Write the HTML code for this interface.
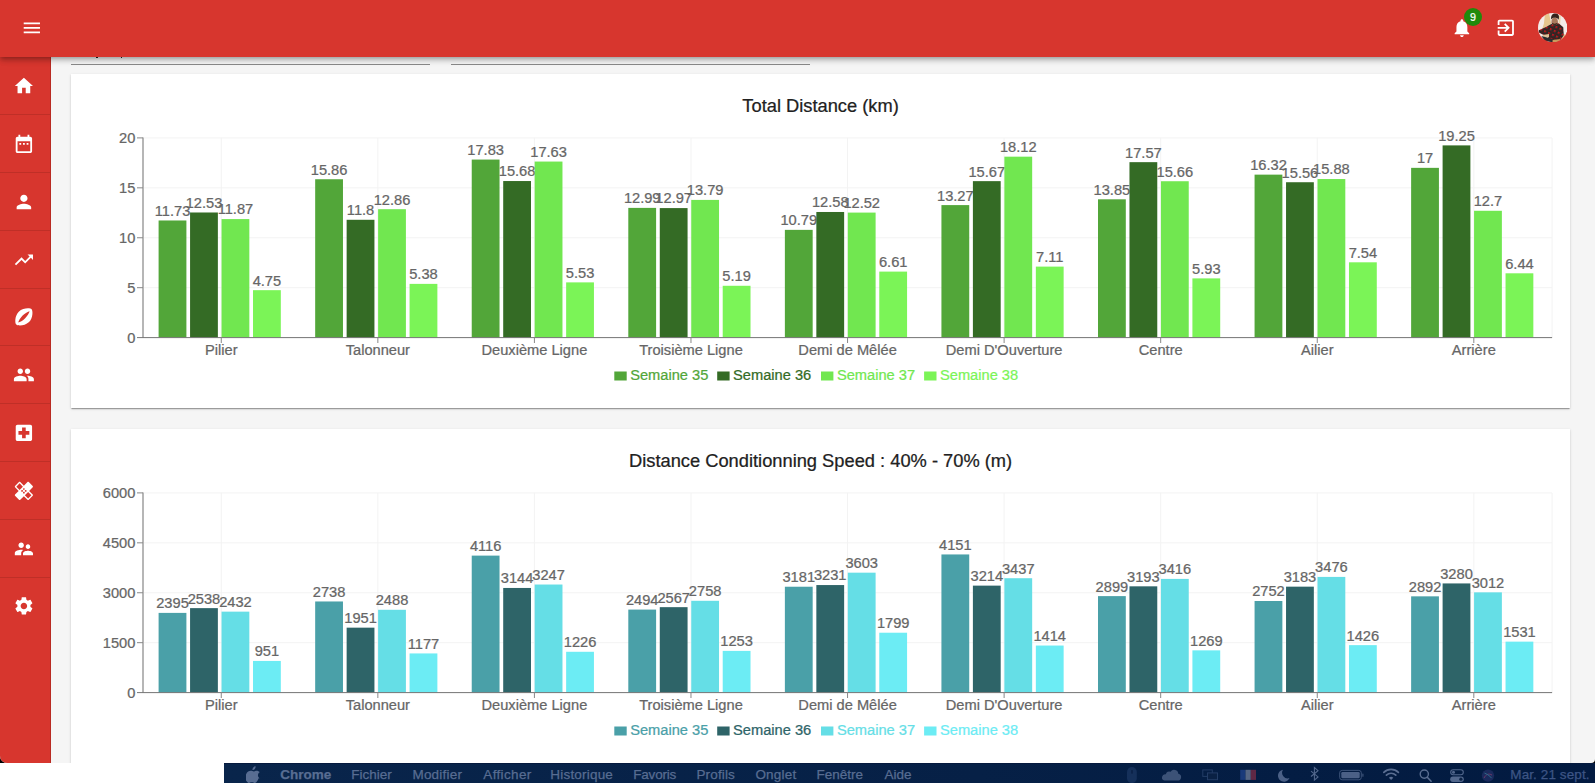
<!DOCTYPE html>
<html lang="fr"><head><meta charset="utf-8"><title>Dashboard</title>
<style>
html,body{margin:0;padding:0}
body{width:1595px;height:783px;overflow:hidden;background:#fff;position:relative;font-family:"Liberation Sans",Arial,Helvetica,sans-serif}
#corner{position:absolute;left:0;top:750px;width:12px;height:13px;background:#000}
#corner2{position:absolute;left:1589px;top:757px;width:6px;height:6px;background:#000}
#app{position:absolute;left:0;top:0;width:1595px;height:762.6px;background:#f5f5f5;overflow:hidden;border-bottom-left-radius:7px;border-bottom-right-radius:4px}
#hdr{position:absolute;left:0;top:0;width:1595px;height:56.8px;background:#d7362e;box-shadow:0 2px 4px -1px rgba(0,0,0,.2),0 4px 5px 0 rgba(0,0,0,.14),0 1px 9px 0 rgba(0,0,0,.12);z-index:5}
#side{position:absolute;left:0;top:0;width:50px;height:763px;background:#d7362e;border-right:1px solid #b92a22;z-index:3}
.ic{position:absolute;display:block}
.dv{position:absolute;left:0;width:50px;height:1px;background:#bf2f27}
.card{position:absolute;left:71px;width:1499px;background:#fff;box-shadow:0 2px 1px -1px rgba(0,0,0,.2),0 1px 1px 0 rgba(0,0,0,.14),0 1px 3px 0 rgba(0,0,0,.12)}
.ul{position:absolute;top:64px;height:1px;background:#8a8a8a}
.desc{position:absolute;top:54px;width:1.6px;height:3.6px;background:#222}
#charts{position:absolute;left:0;top:0;z-index:2}
#charts text{font-family:"Liberation Sans",Arial,Helvetica,sans-serif;font-size:14.65px;stroke-width:.24px}
#mb{position:absolute;left:224px;top:763px;width:1371px;height:20px;background:linear-gradient(90deg,#09254b 0%,#062046 55%,#021a40 100%);border-top:1px solid #061a3e;box-sizing:border-box;color:#586d92;font-size:13.5px;line-height:20px;white-space:nowrap;overflow:hidden}
#mb span{position:absolute;top:.6px;-webkit-text-stroke:.25px currentColor}
</style></head><body>
<div id="corner"></div><div id="corner2"></div>
<div id="app">
  <div class="ul" style="left:71px;width:359px"></div>
  <div class="ul" style="left:451px;width:359px"></div>
  <div class="desc" style="left:96.2px"></div><div class="desc" style="left:120.6px"></div>
  <div class="card" style="top:74px;height:334px"></div>
  <div class="card" style="top:429px;height:340px"></div>
  <svg id="charts" width="1595" height="763" viewBox="0 0 1595 763">
<line x1="143.0" x2="1552.1" y1="337.60" y2="337.60" stroke="#f3f3f3" stroke-width="1"/>
<line x1="143.0" x2="1552.1" y1="287.68" y2="287.68" stroke="#f3f3f3" stroke-width="1"/>
<line x1="143.0" x2="1552.1" y1="237.75" y2="237.75" stroke="#f3f3f3" stroke-width="1"/>
<line x1="143.0" x2="1552.1" y1="187.83" y2="187.83" stroke="#f3f3f3" stroke-width="1"/>
<line x1="143.0" x2="1552.1" y1="137.90" y2="137.90" stroke="#f3f3f3" stroke-width="1"/>
<line x1="221.28" x2="221.28" y1="137.90" y2="337.60" stroke="#f3f3f3" stroke-width="1"/>
<line x1="377.85" x2="377.85" y1="137.90" y2="337.60" stroke="#f3f3f3" stroke-width="1"/>
<line x1="534.42" x2="534.42" y1="137.90" y2="337.60" stroke="#f3f3f3" stroke-width="1"/>
<line x1="690.98" x2="690.98" y1="137.90" y2="337.60" stroke="#f3f3f3" stroke-width="1"/>
<line x1="847.55" x2="847.55" y1="137.90" y2="337.60" stroke="#f3f3f3" stroke-width="1"/>
<line x1="1004.12" x2="1004.12" y1="137.90" y2="337.60" stroke="#f3f3f3" stroke-width="1"/>
<line x1="1160.68" x2="1160.68" y1="137.90" y2="337.60" stroke="#f3f3f3" stroke-width="1"/>
<line x1="1317.25" x2="1317.25" y1="137.90" y2="337.60" stroke="#f3f3f3" stroke-width="1"/>
<line x1="1473.82" x2="1473.82" y1="137.90" y2="337.60" stroke="#f3f3f3" stroke-width="1"/>
<line x1="1552.1" x2="1552.1" y1="137.90" y2="337.60" stroke="#f3f3f3" stroke-width="1"/>
<rect x="158.60" y="220.48" width="27.8" height="117.12" fill="#52a639"/>
<rect x="315.17" y="179.24" width="27.8" height="158.36" fill="#52a639"/>
<rect x="471.73" y="159.57" width="27.8" height="178.03" fill="#52a639"/>
<rect x="628.30" y="207.89" width="27.8" height="129.71" fill="#52a639"/>
<rect x="784.87" y="229.86" width="27.8" height="107.74" fill="#52a639"/>
<rect x="941.43" y="205.10" width="27.8" height="132.50" fill="#52a639"/>
<rect x="1098.00" y="199.31" width="27.8" height="138.29" fill="#52a639"/>
<rect x="1254.57" y="174.64" width="27.8" height="162.96" fill="#52a639"/>
<rect x="1411.13" y="167.85" width="27.8" height="169.75" fill="#52a639"/>
<text x="172.50" y="215.88" text-anchor="middle" fill="#666" stroke="#666">11.73</text>
<text x="329.07" y="174.64" text-anchor="middle" fill="#666" stroke="#666">15.86</text>
<text x="485.63" y="154.97" text-anchor="middle" fill="#666" stroke="#666">17.83</text>
<text x="642.20" y="203.29" text-anchor="middle" fill="#666" stroke="#666">12.99</text>
<text x="798.77" y="225.26" text-anchor="middle" fill="#666" stroke="#666">10.79</text>
<text x="955.33" y="200.50" text-anchor="middle" fill="#666" stroke="#666">13.27</text>
<text x="1111.90" y="194.71" text-anchor="middle" fill="#666" stroke="#666">13.85</text>
<text x="1268.47" y="170.04" text-anchor="middle" fill="#666" stroke="#666">16.32</text>
<text x="1425.03" y="163.25" text-anchor="middle" fill="#666" stroke="#666">17</text>
<rect x="190.07" y="212.49" width="27.8" height="125.11" fill="#346b25"/>
<rect x="346.64" y="219.78" width="27.8" height="117.82" fill="#346b25"/>
<rect x="503.20" y="181.04" width="27.8" height="156.56" fill="#346b25"/>
<rect x="659.77" y="208.09" width="27.8" height="129.51" fill="#346b25"/>
<rect x="816.34" y="211.99" width="27.8" height="125.61" fill="#346b25"/>
<rect x="972.90" y="181.14" width="27.8" height="156.46" fill="#346b25"/>
<rect x="1129.47" y="162.16" width="27.8" height="175.44" fill="#346b25"/>
<rect x="1286.04" y="182.23" width="27.8" height="155.37" fill="#346b25"/>
<rect x="1442.60" y="145.39" width="27.8" height="192.21" fill="#346b25"/>
<text x="203.97" y="207.89" text-anchor="middle" fill="#666" stroke="#666">12.53</text>
<text x="360.54" y="215.18" text-anchor="middle" fill="#666" stroke="#666">11.8</text>
<text x="517.10" y="176.44" text-anchor="middle" fill="#666" stroke="#666">15.68</text>
<text x="673.67" y="203.49" text-anchor="middle" fill="#666" stroke="#666">12.97</text>
<text x="830.24" y="207.39" text-anchor="middle" fill="#666" stroke="#666">12.58</text>
<text x="986.80" y="176.54" text-anchor="middle" fill="#666" stroke="#666">15.67</text>
<text x="1143.37" y="157.56" text-anchor="middle" fill="#666" stroke="#666">17.57</text>
<text x="1299.94" y="177.63" text-anchor="middle" fill="#666" stroke="#666">15.56</text>
<text x="1456.50" y="140.79" text-anchor="middle" fill="#666" stroke="#666">19.25</text>
<rect x="221.54" y="219.08" width="27.8" height="118.52" fill="#71e750"/>
<rect x="378.11" y="209.19" width="27.8" height="128.41" fill="#71e750"/>
<rect x="534.67" y="161.56" width="27.8" height="176.04" fill="#71e750"/>
<rect x="691.24" y="199.91" width="27.8" height="137.69" fill="#71e750"/>
<rect x="847.81" y="212.59" width="27.8" height="125.01" fill="#71e750"/>
<rect x="1004.37" y="156.67" width="27.8" height="180.93" fill="#71e750"/>
<rect x="1160.94" y="181.23" width="27.8" height="156.37" fill="#71e750"/>
<rect x="1317.51" y="179.04" width="27.8" height="158.56" fill="#71e750"/>
<rect x="1474.07" y="210.79" width="27.8" height="126.81" fill="#71e750"/>
<text x="235.44" y="214.48" text-anchor="middle" fill="#666" stroke="#666">11.87</text>
<text x="392.01" y="204.59" text-anchor="middle" fill="#666" stroke="#666">12.86</text>
<text x="548.57" y="156.96" text-anchor="middle" fill="#666" stroke="#666">17.63</text>
<text x="705.14" y="195.31" text-anchor="middle" fill="#666" stroke="#666">13.79</text>
<text x="861.71" y="207.99" text-anchor="middle" fill="#666" stroke="#666">12.52</text>
<text x="1018.27" y="152.07" text-anchor="middle" fill="#666" stroke="#666">18.12</text>
<text x="1174.84" y="176.63" text-anchor="middle" fill="#666" stroke="#666">15.66</text>
<text x="1331.41" y="174.44" text-anchor="middle" fill="#666" stroke="#666">15.88</text>
<text x="1487.97" y="206.19" text-anchor="middle" fill="#666" stroke="#666">12.7</text>
<rect x="253.01" y="290.17" width="27.8" height="47.43" fill="#7bf457"/>
<rect x="409.58" y="283.88" width="27.8" height="53.72" fill="#7bf457"/>
<rect x="566.14" y="282.38" width="27.8" height="55.22" fill="#7bf457"/>
<rect x="722.71" y="285.78" width="27.8" height="51.82" fill="#7bf457"/>
<rect x="879.28" y="271.60" width="27.8" height="66.00" fill="#7bf457"/>
<rect x="1035.84" y="266.61" width="27.8" height="70.99" fill="#7bf457"/>
<rect x="1192.41" y="278.39" width="27.8" height="59.21" fill="#7bf457"/>
<rect x="1348.98" y="262.31" width="27.8" height="75.29" fill="#7bf457"/>
<rect x="1505.54" y="273.30" width="27.8" height="64.30" fill="#7bf457"/>
<text x="266.91" y="285.57" text-anchor="middle" fill="#666" stroke="#666">4.75</text>
<text x="423.48" y="279.28" text-anchor="middle" fill="#666" stroke="#666">5.38</text>
<text x="580.04" y="277.78" text-anchor="middle" fill="#666" stroke="#666">5.53</text>
<text x="736.61" y="281.18" text-anchor="middle" fill="#666" stroke="#666">5.19</text>
<text x="893.18" y="267.00" text-anchor="middle" fill="#666" stroke="#666">6.61</text>
<text x="1049.74" y="262.01" text-anchor="middle" fill="#666" stroke="#666">7.11</text>
<text x="1206.31" y="273.79" text-anchor="middle" fill="#666" stroke="#666">5.93</text>
<text x="1362.88" y="257.71" text-anchor="middle" fill="#666" stroke="#666">7.54</text>
<text x="1519.44" y="268.70" text-anchor="middle" fill="#666" stroke="#666">6.44</text>
<line x1="143.0" x2="143.0" y1="137.40" y2="338.00" stroke="#b6b6b6" stroke-width="2"/>
<line x1="137.0" x2="1552.1" y1="337.60" y2="337.60" stroke="#777" stroke-width="1"/>
<text x="135.4" y="342.70" text-anchor="end" fill="#666" stroke="#666">0</text>
<line x1="137.0" x2="143.0" y1="287.68" y2="287.68" stroke="#888" stroke-width="1"/>
<text x="135.4" y="292.78" text-anchor="end" fill="#666" stroke="#666">5</text>
<line x1="137.0" x2="143.0" y1="237.75" y2="237.75" stroke="#888" stroke-width="1"/>
<text x="135.4" y="242.85" text-anchor="end" fill="#666" stroke="#666">10</text>
<line x1="137.0" x2="143.0" y1="187.83" y2="187.83" stroke="#888" stroke-width="1"/>
<text x="135.4" y="192.93" text-anchor="end" fill="#666" stroke="#666">15</text>
<line x1="137.0" x2="143.0" y1="137.90" y2="137.90" stroke="#888" stroke-width="1"/>
<text x="135.4" y="143.00" text-anchor="end" fill="#666" stroke="#666">20</text>
<line x1="221.28" x2="221.28" y1="337.60" y2="343.00" stroke="#888" stroke-width="1"/>
<text x="221.28" y="355.20" text-anchor="middle" fill="#666" stroke="#666">Pilier</text>
<line x1="377.85" x2="377.85" y1="337.60" y2="343.00" stroke="#888" stroke-width="1"/>
<text x="377.85" y="355.20" text-anchor="middle" fill="#666" stroke="#666">Talonneur</text>
<line x1="534.42" x2="534.42" y1="337.60" y2="343.00" stroke="#888" stroke-width="1"/>
<text x="534.42" y="355.20" text-anchor="middle" fill="#666" stroke="#666">Deuxième Ligne</text>
<line x1="690.98" x2="690.98" y1="337.60" y2="343.00" stroke="#888" stroke-width="1"/>
<text x="690.98" y="355.20" text-anchor="middle" fill="#666" stroke="#666">Troisième Ligne</text>
<line x1="847.55" x2="847.55" y1="337.60" y2="343.00" stroke="#888" stroke-width="1"/>
<text x="847.55" y="355.20" text-anchor="middle" fill="#666" stroke="#666">Demi de Mêlée</text>
<line x1="1004.12" x2="1004.12" y1="337.60" y2="343.00" stroke="#888" stroke-width="1"/>
<text x="1004.12" y="355.20" text-anchor="middle" fill="#666" stroke="#666">Demi D'Ouverture</text>
<line x1="1160.68" x2="1160.68" y1="337.60" y2="343.00" stroke="#888" stroke-width="1"/>
<text x="1160.68" y="355.20" text-anchor="middle" fill="#666" stroke="#666">Centre</text>
<line x1="1317.25" x2="1317.25" y1="337.60" y2="343.00" stroke="#888" stroke-width="1"/>
<text x="1317.25" y="355.20" text-anchor="middle" fill="#666" stroke="#666">Ailier</text>
<line x1="1473.82" x2="1473.82" y1="337.60" y2="343.00" stroke="#888" stroke-width="1"/>
<text x="1473.82" y="355.20" text-anchor="middle" fill="#666" stroke="#666">Arrière</text>
<rect x="614.3" y="371.50" width="12.4" height="9.0" fill="#52a639"/>
<text x="630.20" y="379.90" fill="#52a639" stroke="#52a639">Semaine 35</text>
<rect x="717.2" y="371.50" width="12.4" height="9.0" fill="#346b25"/>
<text x="733.10" y="379.90" fill="#346b25" stroke="#346b25">Semaine 36</text>
<rect x="821.0" y="371.50" width="12.4" height="9.0" fill="#71e750"/>
<text x="836.90" y="379.90" fill="#71e750" stroke="#71e750">Semaine 37</text>
<rect x="924.1" y="371.50" width="12.4" height="9.0" fill="#7bf457"/>
<text x="940.00" y="379.90" fill="#7bf457" stroke="#7bf457">Semaine 38</text>
<text x="820.6" y="111.70" text-anchor="middle" fill="#212121" stroke="#212121" style="font-size:18.3px">Total Distance (km)</text>
<line x1="143.0" x2="1552.1" y1="692.60" y2="692.60" stroke="#f3f3f3" stroke-width="1"/>
<line x1="143.0" x2="1552.1" y1="642.68" y2="642.68" stroke="#f3f3f3" stroke-width="1"/>
<line x1="143.0" x2="1552.1" y1="592.75" y2="592.75" stroke="#f3f3f3" stroke-width="1"/>
<line x1="143.0" x2="1552.1" y1="542.83" y2="542.83" stroke="#f3f3f3" stroke-width="1"/>
<line x1="143.0" x2="1552.1" y1="492.90" y2="492.90" stroke="#f3f3f3" stroke-width="1"/>
<line x1="221.28" x2="221.28" y1="492.90" y2="692.60" stroke="#f3f3f3" stroke-width="1"/>
<line x1="377.85" x2="377.85" y1="492.90" y2="692.60" stroke="#f3f3f3" stroke-width="1"/>
<line x1="534.42" x2="534.42" y1="492.90" y2="692.60" stroke="#f3f3f3" stroke-width="1"/>
<line x1="690.98" x2="690.98" y1="492.90" y2="692.60" stroke="#f3f3f3" stroke-width="1"/>
<line x1="847.55" x2="847.55" y1="492.90" y2="692.60" stroke="#f3f3f3" stroke-width="1"/>
<line x1="1004.12" x2="1004.12" y1="492.90" y2="692.60" stroke="#f3f3f3" stroke-width="1"/>
<line x1="1160.68" x2="1160.68" y1="492.90" y2="692.60" stroke="#f3f3f3" stroke-width="1"/>
<line x1="1317.25" x2="1317.25" y1="492.90" y2="692.60" stroke="#f3f3f3" stroke-width="1"/>
<line x1="1473.82" x2="1473.82" y1="492.90" y2="692.60" stroke="#f3f3f3" stroke-width="1"/>
<line x1="1552.1" x2="1552.1" y1="492.90" y2="692.60" stroke="#f3f3f3" stroke-width="1"/>
<rect x="158.60" y="612.89" width="27.8" height="79.71" fill="#4aa0a8"/>
<rect x="315.17" y="601.47" width="27.8" height="91.13" fill="#4aa0a8"/>
<rect x="471.73" y="555.61" width="27.8" height="136.99" fill="#4aa0a8"/>
<rect x="628.30" y="609.59" width="27.8" height="83.01" fill="#4aa0a8"/>
<rect x="784.87" y="586.73" width="27.8" height="105.87" fill="#4aa0a8"/>
<rect x="941.43" y="554.44" width="27.8" height="138.16" fill="#4aa0a8"/>
<rect x="1098.00" y="596.11" width="27.8" height="96.49" fill="#4aa0a8"/>
<rect x="1254.57" y="601.00" width="27.8" height="91.60" fill="#4aa0a8"/>
<rect x="1411.13" y="596.34" width="27.8" height="96.26" fill="#4aa0a8"/>
<text x="172.50" y="608.29" text-anchor="middle" fill="#666" stroke="#666">2395</text>
<text x="329.07" y="596.87" text-anchor="middle" fill="#666" stroke="#666">2738</text>
<text x="485.63" y="551.01" text-anchor="middle" fill="#666" stroke="#666">4116</text>
<text x="642.20" y="604.99" text-anchor="middle" fill="#666" stroke="#666">2494</text>
<text x="798.77" y="582.13" text-anchor="middle" fill="#666" stroke="#666">3181</text>
<text x="955.33" y="549.84" text-anchor="middle" fill="#666" stroke="#666">4151</text>
<text x="1111.90" y="591.51" text-anchor="middle" fill="#666" stroke="#666">2899</text>
<text x="1268.47" y="596.40" text-anchor="middle" fill="#666" stroke="#666">2752</text>
<text x="1425.03" y="591.74" text-anchor="middle" fill="#666" stroke="#666">2892</text>
<rect x="190.07" y="608.13" width="27.8" height="84.47" fill="#2e6468"/>
<rect x="346.64" y="627.66" width="27.8" height="64.94" fill="#2e6468"/>
<rect x="503.20" y="587.96" width="27.8" height="104.64" fill="#2e6468"/>
<rect x="659.77" y="607.16" width="27.8" height="85.44" fill="#2e6468"/>
<rect x="816.34" y="585.06" width="27.8" height="107.54" fill="#2e6468"/>
<rect x="972.90" y="585.63" width="27.8" height="106.97" fill="#2e6468"/>
<rect x="1129.47" y="586.33" width="27.8" height="106.27" fill="#2e6468"/>
<rect x="1286.04" y="586.66" width="27.8" height="105.94" fill="#2e6468"/>
<rect x="1442.60" y="583.43" width="27.8" height="109.17" fill="#2e6468"/>
<text x="203.97" y="603.53" text-anchor="middle" fill="#666" stroke="#666">2538</text>
<text x="360.54" y="623.06" text-anchor="middle" fill="#666" stroke="#666">1951</text>
<text x="517.10" y="583.36" text-anchor="middle" fill="#666" stroke="#666">3144</text>
<text x="673.67" y="602.56" text-anchor="middle" fill="#666" stroke="#666">2567</text>
<text x="830.24" y="580.46" text-anchor="middle" fill="#666" stroke="#666">3231</text>
<text x="986.80" y="581.03" text-anchor="middle" fill="#666" stroke="#666">3214</text>
<text x="1143.37" y="581.73" text-anchor="middle" fill="#666" stroke="#666">3193</text>
<text x="1299.94" y="582.06" text-anchor="middle" fill="#666" stroke="#666">3183</text>
<text x="1456.50" y="578.83" text-anchor="middle" fill="#666" stroke="#666">3280</text>
<rect x="221.54" y="611.65" width="27.8" height="80.95" fill="#65dee6"/>
<rect x="378.11" y="609.79" width="27.8" height="82.81" fill="#65dee6"/>
<rect x="534.67" y="584.53" width="27.8" height="108.07" fill="#65dee6"/>
<rect x="691.24" y="600.80" width="27.8" height="91.80" fill="#65dee6"/>
<rect x="847.81" y="572.68" width="27.8" height="119.92" fill="#65dee6"/>
<rect x="1004.37" y="578.21" width="27.8" height="114.39" fill="#65dee6"/>
<rect x="1160.94" y="578.90" width="27.8" height="113.70" fill="#65dee6"/>
<rect x="1317.51" y="576.91" width="27.8" height="115.69" fill="#65dee6"/>
<rect x="1474.07" y="592.35" width="27.8" height="100.25" fill="#65dee6"/>
<text x="235.44" y="607.05" text-anchor="middle" fill="#666" stroke="#666">2432</text>
<text x="392.01" y="605.19" text-anchor="middle" fill="#666" stroke="#666">2488</text>
<text x="548.57" y="579.93" text-anchor="middle" fill="#666" stroke="#666">3247</text>
<text x="705.14" y="596.20" text-anchor="middle" fill="#666" stroke="#666">2758</text>
<text x="861.71" y="568.08" text-anchor="middle" fill="#666" stroke="#666">3603</text>
<text x="1018.27" y="573.61" text-anchor="middle" fill="#666" stroke="#666">3437</text>
<text x="1174.84" y="574.30" text-anchor="middle" fill="#666" stroke="#666">3416</text>
<text x="1331.41" y="572.31" text-anchor="middle" fill="#666" stroke="#666">3476</text>
<text x="1487.97" y="587.75" text-anchor="middle" fill="#666" stroke="#666">3012</text>
<rect x="253.01" y="660.95" width="27.8" height="31.65" fill="#6cecf4"/>
<rect x="409.58" y="653.43" width="27.8" height="39.17" fill="#6cecf4"/>
<rect x="566.14" y="651.79" width="27.8" height="40.81" fill="#6cecf4"/>
<rect x="722.71" y="650.90" width="27.8" height="41.70" fill="#6cecf4"/>
<rect x="879.28" y="632.72" width="27.8" height="59.88" fill="#6cecf4"/>
<rect x="1035.84" y="645.54" width="27.8" height="47.06" fill="#6cecf4"/>
<rect x="1192.41" y="650.36" width="27.8" height="42.24" fill="#6cecf4"/>
<rect x="1348.98" y="645.14" width="27.8" height="47.46" fill="#6cecf4"/>
<rect x="1505.54" y="641.64" width="27.8" height="50.96" fill="#6cecf4"/>
<text x="266.91" y="656.35" text-anchor="middle" fill="#666" stroke="#666">951</text>
<text x="423.48" y="648.83" text-anchor="middle" fill="#666" stroke="#666">1177</text>
<text x="580.04" y="647.19" text-anchor="middle" fill="#666" stroke="#666">1226</text>
<text x="736.61" y="646.30" text-anchor="middle" fill="#666" stroke="#666">1253</text>
<text x="893.18" y="628.12" text-anchor="middle" fill="#666" stroke="#666">1799</text>
<text x="1049.74" y="640.94" text-anchor="middle" fill="#666" stroke="#666">1414</text>
<text x="1206.31" y="645.76" text-anchor="middle" fill="#666" stroke="#666">1269</text>
<text x="1362.88" y="640.54" text-anchor="middle" fill="#666" stroke="#666">1426</text>
<text x="1519.44" y="637.04" text-anchor="middle" fill="#666" stroke="#666">1531</text>
<line x1="143.0" x2="143.0" y1="492.40" y2="693.00" stroke="#b6b6b6" stroke-width="2"/>
<line x1="137.0" x2="1552.1" y1="692.60" y2="692.60" stroke="#777" stroke-width="1"/>
<text x="135.4" y="697.70" text-anchor="end" fill="#666" stroke="#666">0</text>
<line x1="137.0" x2="143.0" y1="642.68" y2="642.68" stroke="#888" stroke-width="1"/>
<text x="135.4" y="647.78" text-anchor="end" fill="#666" stroke="#666">1500</text>
<line x1="137.0" x2="143.0" y1="592.75" y2="592.75" stroke="#888" stroke-width="1"/>
<text x="135.4" y="597.85" text-anchor="end" fill="#666" stroke="#666">3000</text>
<line x1="137.0" x2="143.0" y1="542.83" y2="542.83" stroke="#888" stroke-width="1"/>
<text x="135.4" y="547.93" text-anchor="end" fill="#666" stroke="#666">4500</text>
<line x1="137.0" x2="143.0" y1="492.90" y2="492.90" stroke="#888" stroke-width="1"/>
<text x="135.4" y="498.00" text-anchor="end" fill="#666" stroke="#666">6000</text>
<line x1="221.28" x2="221.28" y1="692.60" y2="698.00" stroke="#888" stroke-width="1"/>
<text x="221.28" y="710.20" text-anchor="middle" fill="#666" stroke="#666">Pilier</text>
<line x1="377.85" x2="377.85" y1="692.60" y2="698.00" stroke="#888" stroke-width="1"/>
<text x="377.85" y="710.20" text-anchor="middle" fill="#666" stroke="#666">Talonneur</text>
<line x1="534.42" x2="534.42" y1="692.60" y2="698.00" stroke="#888" stroke-width="1"/>
<text x="534.42" y="710.20" text-anchor="middle" fill="#666" stroke="#666">Deuxième Ligne</text>
<line x1="690.98" x2="690.98" y1="692.60" y2="698.00" stroke="#888" stroke-width="1"/>
<text x="690.98" y="710.20" text-anchor="middle" fill="#666" stroke="#666">Troisième Ligne</text>
<line x1="847.55" x2="847.55" y1="692.60" y2="698.00" stroke="#888" stroke-width="1"/>
<text x="847.55" y="710.20" text-anchor="middle" fill="#666" stroke="#666">Demi de Mêlée</text>
<line x1="1004.12" x2="1004.12" y1="692.60" y2="698.00" stroke="#888" stroke-width="1"/>
<text x="1004.12" y="710.20" text-anchor="middle" fill="#666" stroke="#666">Demi D'Ouverture</text>
<line x1="1160.68" x2="1160.68" y1="692.60" y2="698.00" stroke="#888" stroke-width="1"/>
<text x="1160.68" y="710.20" text-anchor="middle" fill="#666" stroke="#666">Centre</text>
<line x1="1317.25" x2="1317.25" y1="692.60" y2="698.00" stroke="#888" stroke-width="1"/>
<text x="1317.25" y="710.20" text-anchor="middle" fill="#666" stroke="#666">Ailier</text>
<line x1="1473.82" x2="1473.82" y1="692.60" y2="698.00" stroke="#888" stroke-width="1"/>
<text x="1473.82" y="710.20" text-anchor="middle" fill="#666" stroke="#666">Arrière</text>
<rect x="614.3" y="726.50" width="12.4" height="9.0" fill="#4aa0a8"/>
<text x="630.20" y="734.90" fill="#4aa0a8" stroke="#4aa0a8">Semaine 35</text>
<rect x="717.2" y="726.50" width="12.4" height="9.0" fill="#2e6468"/>
<text x="733.10" y="734.90" fill="#2e6468" stroke="#2e6468">Semaine 36</text>
<rect x="821.0" y="726.50" width="12.4" height="9.0" fill="#65dee6"/>
<text x="836.90" y="734.90" fill="#65dee6" stroke="#65dee6">Semaine 37</text>
<rect x="924.1" y="726.50" width="12.4" height="9.0" fill="#6cecf4"/>
<text x="940.00" y="734.90" fill="#6cecf4" stroke="#6cecf4">Semaine 38</text>
<text x="820.6" y="466.70" text-anchor="middle" fill="#212121" stroke="#212121" style="font-size:18.3px">Distance Conditionning Speed : 40% - 70% (m)</text>
  </svg>
  <div id="side">
<svg class="ic" style="left:13.10px;top:75.10px" width="21.8" height="21.8" viewBox="0 0 24 24"><path fill="#fff" d="M10 20v-6h4v6h5v-8h3L12 3 2 12h3v8z"/></svg>
<div class="dv" style="top:113.90px"></div>
<svg class="ic" style="left:13.10px;top:132.92px" width="21.8" height="21.8" viewBox="0 0 24 24"><path fill="#fff" d="M9 11H7v2h2v-2zm4 0h-2v2h2v-2zm4 0h-2v2h2v-2zm2-7h-1V2h-2v2H8V2H6v2H5c-1.11 0-1.99.9-1.99 2L3 20c0 1.1.89 2 2 2h14c1.1 0 2-.9 2-2V6c0-1.1-.9-2-2-2zm0 16H5V9h14v11z"/></svg>
<div class="dv" style="top:171.78px"></div>
<svg class="ic" style="left:13.10px;top:190.74px" width="21.8" height="21.8" viewBox="0 0 24 24"><path fill="#fff" d="M12 12c2.21 0 4-1.79 4-4s-1.79-4-4-4-4 1.79-4 4 1.79 4 4 4zm0 2c-2.67 0-8 1.34-8 4v2h16v-2c0-2.66-5.33-4-8-4z"/></svg>
<div class="dv" style="top:229.66px"></div>
<svg class="ic" style="left:13.10px;top:248.56px" width="21.8" height="21.8" viewBox="0 0 24 24"><path fill="#fff" d="M16 6l2.29 2.29-4.88 4.88-4-4L2 16.59 3.41 18l6-6 4 4 6.3-6.29L22 12V6z"/></svg>
<div class="dv" style="top:287.54px"></div>
<svg class="ic" style="left:13.10px;top:306.38px" width="21.8" height="21.8" viewBox="0 0 24 24"><path fill="#fff" d="M20.49 3.51c-.56-.56-2.15-.97-4.16-.97-3.08 0-7.15.96-9.98 3.79-4.69 4.7-4.25 12.74-2.84 14.16.56.56 2.15.97 4.16.97 3.08 0 7.15-.96 9.98-3.79 4.69-4.7 4.25-12.74 2.84-14.16zM5.71 18.29c.63-1.89 2.16-4.99 4.87-7.7 2.68-2.68 5.78-4.23 7.7-4.88-.63 1.89-2.16 4.99-4.88 7.7-2.66 2.66-5.76 4.23-7.69 4.88z"/></svg>
<div class="dv" style="top:345.42px"></div>
<svg class="ic" style="left:13.10px;top:364.20px" width="21.8" height="21.8" viewBox="0 0 24 24"><path fill="#fff" d="M16 11c1.66 0 2.99-1.34 2.99-3S17.66 5 16 5c-1.66 0-3 1.34-3 3s1.34 3 3 3zm-8 0c1.66 0 2.99-1.34 2.99-3S9.66 5 8 5C6.34 5 5 6.34 5 8s1.34 3 3 3zm0 2c-2.33 0-7 1.17-7 3.5V19h14v-2.5c0-2.33-4.67-3.5-7-3.5zm8 0c-.29 0-.62.02-.97.05 1.16.84 1.97 1.97 1.97 3.45V19h6v-2.5c0-2.33-4.67-3.5-7-3.5z"/></svg>
<div class="dv" style="top:403.30px"></div>
<svg class="ic" style="left:13.10px;top:422.02px" width="21.8" height="21.8" viewBox="0 0 24 24"><path fill="#fff" d="M19 3H5c-1.1 0-1.99.9-1.99 2L3 19c0 1.1.9 2 2 2h14c1.1 0 2-.9 2-2V5c0-1.1-.9-2-2-2zm-1 11h-4v4h-4v-4H6v-4h4V6h4v4h4v4z"/></svg>
<div class="dv" style="top:461.18px"></div>
<svg class="ic" style="left:13.10px;top:479.84px" width="21.8" height="21.8" viewBox="0 0 24 24"><path fill="#fff" d="M17.73 12.02l3.98-3.98c.39-.39.39-1.02 0-1.41l-4.34-4.34c-.39-.39-1.02-.39-1.41 0l-3.98 3.98L8 2.29C7.8 2.1 7.55 2 7.29 2c-.25 0-.51.1-.7.29L2.25 6.63c-.39.39-.39 1.02 0 1.41l3.98 3.98L2.25 16c-.39.39-.39 1.02 0 1.41l4.34 4.34c.39.39 1.02.39 1.41 0l3.98-3.98 3.98 3.98c.2.2.45.29.71.29.26 0 .51-.1.71-.29l4.34-4.34c.39-.39.39-1.02 0-1.41l-3.99-3.98zM12 9c.55 0 1 .45 1 1s-.45 1-1 1-1-.45-1-1 .45-1 1-1zm-4.71 1.96L3.66 7.34l3.63-3.63 3.62 3.62-3.62 3.63zM10 13c-.55 0-1-.45-1-1s.45-1 1-1 1 .45 1 1-.45 1-1 1zm2 2c-.55 0-1-.45-1-1s.45-1 1-1 1 .45 1 1-.45 1-1 1zm2-4c.55 0 1 .45 1 1s-.45 1-1 1-1-.45-1-1 .45-1 1-1zm2.660 9.340l-3.630-3.620 3.630-3.630 3.620 3.620-3.620 3.630z"/></svg>
<div class="dv" style="top:519.06px"></div>
<svg class="ic" style="left:13.10px;top:537.66px" width="21.8" height="21.8" viewBox="0 0 24 24"><path fill="#fff" d="M16.500 12c1.380 0 2.490-1.120 2.490-2.500S17.880 7 16.500 7C15.120 7 14 8.120 14 9.500s1.120 2.500 2.500 2.500zM9 11c1.660 0 2.990-1.340 2.990-3S10.660 5 9 5C7.340 5 6 6.340 6 8s1.340 3 3 3zm7.500 3c-1.830 0-5.500.920-5.500 2.750V19h11v-2.250c0-1.830-3.670-2.750-5.500-2.750zM9 13c-2.330 0-7 1.170-7 3.500V19h7v-2.250c0-.850.330-2.340 2.370-3.470C10.500 13.100 9.660 13 9 13z"/></svg>
<div class="dv" style="top:576.94px"></div>
<svg class="ic" style="left:13.10px;top:595.48px" width="21.8" height="21.8" viewBox="0 0 24 24"><path fill="#fff" d="M19.140 12.940c.04-.3.060-.61.060-.94 0-.32-.02-.64-.07-.94l2.030-1.580c.18-.14.230-.41.120-.61l-1.920-3.320c-.12-.22-.37-.29-.59-.22l-2.390.96c-.5-.38-1.030-.7-1.620-.94l-.36-2.540c-.04-.24-.24-.41-.48-.41h-3.840c-.24 0-.43.170-.47.410l-.36 2.540c-.59.240-1.130.57-1.620.94l-2.390-.96c-.22-.08-.47 0-.59.220L2.740 8.870c-.12.210-.08.470.12.610l2.030 1.580c-.05.300-.09.630-.09.940s.02.640.07.940l-2.030 1.580c-.18.140-.23.410-.12.610l1.920 3.320c.12.220.37.290.59.220l2.390-.96c.5.380 1.030.7 1.620.94l.36 2.540c.05.240.24.410.48.410h3.840c.24 0 .44-.17.470-.41l.36-2.540c.59-.24 1.130-.56 1.620-.94l2.390.96c.22.080.47 0 .59-.22l1.920-3.320c.12-.22.070-.47-.12-.61l-2.010-1.580zM12 15.600c-1.980 0-3.600-1.620-3.600-3.600s1.620-3.600 3.600-3.600 3.600 1.620 3.600 3.600-1.620 3.600-3.600 3.600z"/></svg>
  </div>
  <div id="hdr">
    <svg class="ic" style="left:20.7px;top:17.3px" width="21.7" height="21.7" viewBox="0 0 24 24"><path fill="#fff" d="M3 18h18v-2H3v2zm0-5h18v-2H3v2zm0-7v2h18V6H3z"/></svg>
    <svg class="ic" style="left:1451.1px;top:17.4px" width="21.8" height="21.8" viewBox="0 0 24 24"><path fill="#fff" d="M12 22c1.1 0 2-.9 2-2h-4c0 1.100.890 2 2 2zm6-6v-5c0-3.070-1.640-5.640-4.500-6.320V4c0-.830-.670-1.500-1.500-1.500s-1.500.670-1.500 1.500v.680C7.630 5.360 6 7.920 6 11v5l-2 2v1h16v-1l-2-2z"/></svg>
    <div style="position:absolute;left:1464px;top:8px;width:18px;height:18px;border-radius:9px;background:#1f8a0b;color:#fff;font-size:10.7px;line-height:18px;text-align:center;-webkit-text-stroke:.2px #fff">9</div>
    <svg class="ic" style="left:1495.0px;top:17.2px" width="21.6" height="21.6" viewBox="0 0 24 24"><path fill="#fff" d="M10.090 15.590L11.500 17l5-5-5-5-1.410 1.410L12.670 11H3v2h9.670l-2.580 2.590zM19 3H5c-1.110 0-2 .900-2 2v4h2V5h14v14H5v-4H3v4c0 1.100.890 2 2 2h14c1.100 0 2-.900 2-2V5c0-1.100-.900-2-2-2z"/></svg>
    <svg class="ic" style="left:1537.8px;top:12.6px" width="29.4" height="29.4" viewBox="0 0 30 30">
      <defs><clipPath id="av"><circle cx="15" cy="15" r="15"/></clipPath><filter id="bl" x="-10%" y="-10%" width="120%" height="120%"><feGaussianBlur stdDeviation="0.55"/></filter>
      <pattern id="pl" width="4.400" height="4.400" patternUnits="userSpaceOnUse" patternTransform="rotate(24)"><rect width="4.400" height="4.400" fill="#242c29"/><rect x="0" y="0" width="2.100" height="2.100" fill="#b3171b"/><rect x="2.200" y="2.200" width="2.200" height="2.200" fill="#4a1a1c"/></pattern></defs>
      <g clip-path="url(#av)"><g filter="url(#bl)">
        <rect x="-2" y="-2" width="34" height="34" fill="#f4ebe8"/>
        <path d="M7 2.100 L11.200 0 L13.500 11 L9.700 13.600 L4.400 16.200 L6 11 Z" fill="#e6c68e"/>
        <path d="M21.100 2.600 L23.200 2.600 L22.700 11 L21.100 10.400 Z" fill="#ead3a6"/>
        <path d="M25.300 21.500 L28 22 L27.400 27 L24 27.500 Z" fill="#e4c08a"/>
        <path d="M11.200 12.500 L14 11 L21.100 10.400 L25.800 14.600 L26.300 22.400 L23.200 27.600 L14.900 29.700 L9.700 24.500 L0.800 19.800 L0.800 17.700 L8.600 14.100 Z" fill="url(#pl)"/>
        <ellipse cx="17" cy="8.700" rx="3.300" ry="3.900" fill="#a9795c"/>
        <path d="M13.400 6.500 C12.800 1.500 16 0 18.500 0.600 C21.500 1 22 4 21 7 C20 4.800 17 4.600 15.200 5.200 C14.300 5.600 13.800 6.200 13.400 6.500Z" fill="#34241c"/>
        <path d="M13.900 9.800 C14.800 13.600 19.500 13.600 20.200 9.800 C18.500 11.300 15.500 11.300 13.900 9.800Z" fill="#40291f"/>
        <path d="M4.400 22.400 L11.200 21.400 L11.200 24.500 L6.500 25.600 Z" fill="#dcc096"/>
        <path d="M3.400 23.500 L14.900 26.600 L14.900 29.900 L7 28.700 Z" fill="#2c2c2e"/>
        <path d="M14.900 27.600 L23.200 26.600 L21.100 30 L14.900 30 Z" fill="#c99a5c"/>
      </g></g>
    </svg>
  </div>
</div>
<div id="mb">
  <svg style="position:absolute;left:21.500px;top:2px" width="14" height="17" viewBox="0 0 14 17"><path fill="#586d92" d="M9.700 0.300c.1 1-.3 1.900-.9 2.600-.6.700-1.500 1.200-2.400 1.100-.1-.9.400-1.900.9-2.500C7.900.800 8.900.300 9.700.300zM12.700 12.300c-.4.900-.6 1.300-1.100 2.100-.7 1.100-1.700 2.500-2.900 2.500-1.100 0-1.400-.7-2.900-.7s-1.800.7-2.900.7c-1.200 0-2.100-1.300-2.900-2.400C-1.100 11.300-.3 7 2.100 5.500c.9-.6 1.900-.8 2.700-.8 1.200 0 2 .7 3 .7s1.600-.7 3-.7c1 0 2.100.5 2.900 1.500-2.500 1.400-2.100 5 .0 6.100z"/></svg>
  <span style="left:56.300px;font-weight:bold">Chrome</span>
  <span style="left:127.300px">Fichier</span>
  <span style="left:188.400px;letter-spacing:.24px">Modifier</span>
  <span style="left:259.300px;letter-spacing:.35px">Afficher</span>
  <span style="left:326.300px;letter-spacing:.2px">Historique</span>
  <span style="left:409.200px;letter-spacing:-.18px">Favoris</span>
  <span style="left:472.400px;letter-spacing:.16px">Profils</span>
  <span style="left:531.400px;letter-spacing:.2px">Onglet</span>
  <span style="left:592.500px">Fenêtre</span>
  <span style="left:660.500px">Aide</span>
  <span style="left:1286.300px;letter-spacing:.1px;font-size:13.5px;color:#3d5585">Mar. 21 sept.</span>
  <svg style="position:absolute;left:891px;top:0" width="390" height="20" viewBox="1115 763.9 390 20">
    <rect x="1127" y="767" width="9.800" height="16" rx="4.900" fill="#15305a"/><rect x="1131.300" y="770" width="1.400" height="3.500" fill="#091f44"/>
    <path d="M1164.500 780.500h13.200a3.400 3.400 0 0 0 .6-6.750a4.200 4.200 0 0 0-7.700-2.100a3.300 3.300 0 0 0-4.700 2.600a3.200 3.200 0 0 0-1.400 6.250z" fill="#3c5277"/>
    <rect x="1202.800" y="769.800" width="9.500" height="6.500" fill="none" stroke="#233d66" stroke-width="1"/><rect x="1207.500" y="772.800" width="10" height="6.800" fill="#0a2144" stroke="#233d66" stroke-width="1"/>
    <rect x="1240.200" y="769.700" width="5.300" height="10.100" fill="#1a3a7a"/><rect x="1245.500" y="769.700" width="5.300" height="10.100" fill="#566684"/><rect x="1250.800" y="769.700" width="5.200" height="10.100" fill="#5f2845"/>
    <path d="M1283 769.700a6 6 0 1 0 6.500 8.300a5.600 5.600 0 0 1-6.500-8.300z" fill="#4b6086"/>
    <path d="M1311 771l7 5.800-3.600 3.200v-12.600l3.600 3.200-7 5.800" fill="none" stroke="#52678c" stroke-width="1.100"/>
    <rect x="1339.700" y="770.300" width="21.600" height="9.400" rx="2.400" fill="none" stroke="#3d5379" stroke-width="1"/><rect x="1341.300" y="771.900" width="18.400" height="6.200" rx="1.200" fill="#4b6086"/><rect x="1362.300" y="773.300" width="1.200" height="3.400" rx=".6" fill="#3d5379"/>
    <g fill="none" stroke="#5a6e92" stroke-width="1.700" stroke-linecap="round"><path d="M1383.800 772.300a10.500 10.500 0 0 1 14.600 0"/><path d="M1386.400 775.100a6.700 6.700 0 0 1 9.400 0"/></g><path d="M1388.900 777.700a3.200 3.200 0 0 1 4.400 0l-2.200 2.300z" fill="#5a6e92"/>
    <circle cx="1424.300" cy="774" r="4.100" fill="none" stroke="#5a6e92" stroke-width="1.400"/><path d="M1427.300 777.200l3.800 3.900" stroke="#5a6e92" stroke-width="1.600" stroke-linecap="round"/>
    <rect x="1450.700" y="769.700" width="12.600" height="5" rx="2.500" fill="none" stroke="#52678c" stroke-width="1.100"/><circle cx="1453.500" cy="772.200" r="1.500" fill="#52678c"/><rect x="1450.200" y="776.400" width="13.600" height="5.400" rx="2.700" fill="#52678c"/><circle cx="1460.900" cy="779.100" r="1.600" fill="#0a2144"/>
    <circle cx="1488" cy="775.500" r="6.200" fill="#1a2a5c"/><path d="M1484 778c2-4 5-5 8-3" stroke="#6a3a6a" stroke-width="1" fill="none"/><path d="M1484.500 773c2 1 5 2 7 5" stroke="#2f6a8a" stroke-width="1" fill="none"/>
  </svg>
</div>
</body></html>
